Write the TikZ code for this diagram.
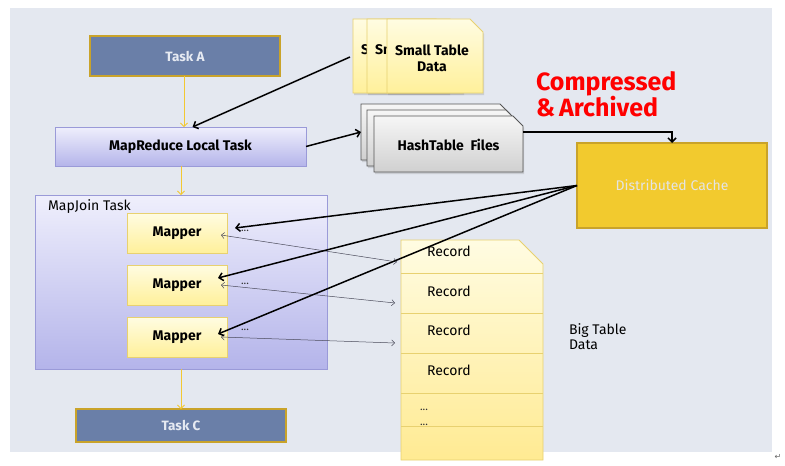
\documentclass[tikz,border=0pt]{standalone}
\usepackage{fontspec}
\setmainfont{Fira Sans}
\newfontfamily\symfont{DejaVu Sans}
\usetikzlibrary{arrows.meta,shadows}
\definecolor{bgc}{HTML}{E4E8F0}
\definecolor{taskfill}{HTML}{6A7FA8}
\definecolor{gold}{HTML}{C9A32A}
\definecolor{tasktext}{HTML}{E6EAF2}
\definecolor{lavtop}{HTML}{EFEFFC}
\definecolor{lavbot}{HTML}{B4B4EA}
\definecolor{lavline}{HTML}{9A9AD8}
\definecolor{yeltop}{HTML}{FFFCE2}
\definecolor{yelbot}{HTML}{FFF09A}
\definecolor{yelline}{HTML}{E8D170}
\definecolor{dcfill}{HTML}{F2CA2E}
\definecolor{dctext}{HTML}{E4E4E4}
\definecolor{arrowyel}{HTML}{F2C832}
\definecolor{graytop}{HTML}{F6F6F6}
\definecolor{graybot}{HTML}{D0D0D0}
\definecolor{grayline}{HTML}{555555}
\definecolor{thinline}{HTML}{4A4A5A}
\begin{document}
\begin{tikzpicture}[x=1pt,y=-1pt,
  every node/.style={inner sep=0pt, outer sep=0pt},
  task/.style={draw=gold, line width=1.2pt, fill=taskfill, text=tasktext,
    font=\fontsize{13.5pt}{15pt}\selectfont\bfseries},
  lav/.style={draw=lavline, line width=0.8pt, top color=lavtop, bottom color=lavbot},
  mapper/.style={draw=yelline, line width=0.8pt, top color=yeltop, bottom color=yelbot,
    minimum width=100pt, minimum height=40pt, font=\fontsize{14pt}{16pt}\selectfont\bfseries},
  stdoc/.style={draw=yelline, line width=0.8pt, top color=yeltop, bottom color=yelbot,
    drop shadow={opacity=0.25, shadow xshift=1pt, shadow yshift=-2pt}},
  htdoc/.style={draw=grayline, line width=0.8pt, top color=graytop, bottom color=graybot,
    drop shadow={opacity=0.25, shadow xshift=1pt, shadow yshift=-2pt}},
  boldtext/.style={font=\fontsize{14pt}{16pt}\selectfont\bfseries, align=center},
  plaintext/.style={font=\fontsize{14pt}{16pt}\selectfont},
  dots/.style={font=\fontsize{11pt}{11pt}\selectfont, text=black!80},
  yarrow/.style={draw=arrowyel, line width=0.8pt, -{Straight Barb[length=3.5pt,width=7pt]}},
  barrow/.style={draw=black, line width=1.5pt, -{Straight Barb[length=4pt,width=8pt]}},
  tarrow/.style={draw=thinline, line width=0.5pt,
    {Straight Barb[length=3pt,width=6pt]}-{Straight Barb[length=3pt,width=6pt]}}
]
\useasboundingbox (0,0) rectangle (785,466);
\fill[white] (0,0) rectangle (785,466);
\fill[bgc] (10,8) rectangle (772,452);

% left column
\node[task, minimum width=190pt, minimum height=40pt] (taskA) at (185,56) {Task A};
\node[lav, minimum width=251pt, minimum height=39pt, boldtext] (mr) at (180.5,146.5) {MapReduce Local Task};
\node[lav, minimum width=292pt, minimum height=174pt] (mj) at (181,282) {};
\node[plaintext, anchor=west] (mjlabel) at (48,207) {MapJoin Task};
\node[mapper] (m1) at (177,233) {Mapper};
\node[mapper] (m2) at (177,285) {Mapper};
\node[mapper] (m3) at (177,337) {Mapper};
\node[task, minimum width=210pt, minimum height=33pt] (taskC) at (181,425.5) {Task C};

\draw[yarrow] (taskA.south -| 184,0) -- (184,0 |- mr.north);
\draw[yarrow] (mr.south -| 181,0) -- (181,0 |- mj.north);
\draw[yarrow] (mj.south -| 181,0) -- (181,0 |- taskC.north);

\node[dots] (d1) at (245,231) {...};
\node[dots] (d2) at (245,284) {...};
\node[dots] (d3) at (245,330) {...};

% small table data stack
\path[stdoc] (353,93) -- (353,19) -- (436,19) -- (449,32) -- (449,93) -- cycle;
\node[boldtext, minimum width=96pt, minimum height=74pt] (st1) at (398,57) {Small Table\\Data};
\path[stdoc] (367,93) -- (367,19) -- (450,19) -- (463,32) -- (463,93) -- cycle;
\node[boldtext, minimum width=96pt, minimum height=74pt] (st2) at (412,57) {Small Table\\Data};
\path[stdoc] (387,93) -- (387,19) -- (470,19) -- (483,32) -- (483,93) -- cycle;
\node[boldtext, minimum width=96pt, minimum height=74pt] (st3) at (432,58) {Small Table\\Data};

% hashtable files stack
\path[htdoc] (361,160) -- (361,104) -- (500,104) -- (510,114) -- (510,160) -- cycle;
\node[minimum width=149pt, minimum height=56pt] (ht1) at (435.5,132) {};
\path[htdoc] (367,166) -- (367,110) -- (506,110) -- (516,120) -- (516,166) -- cycle;
\node[minimum width=149pt, minimum height=56pt] (ht2) at (441.5,138) {};
\path[htdoc] (374,172) -- (374,116) -- (513,116) -- (523,126) -- (523,172) -- cycle;
\node[boldtext, minimum width=149pt, minimum height=56pt] (ht3) at (448.5,145) {HashTable\ \ Files};

% compressed label
\node[anchor=north west, align=left, text=red, font=\fontsize{25pt}{26pt}\selectfont\bfseries] (comp) at (536,72) {Compressed\\\&\,Archived};

% distributed cache
\node[draw=gold, line width=1.2pt, fill=dcfill, text=dctext, minimum width=190pt, minimum height=85pt,
  font=\fontsize{14pt}{16pt}\selectfont] (dc) at (672,185.5) {Distributed Cache};

% big table
\path[draw=yelline, line width=0.8pt, top color=yeltop, bottom color=yelbot!95!orange]
  (401,460) -- (401,240) -- (519,240) -- (543,264) -- (543,460) -- cycle;
\foreach \yy in {273,313,353,393,426} \draw[yelline, line width=0.8pt] (401,\yy) -- (543,\yy);
\node[plaintext, anchor=west] (rec1) at (427,251) {Record};
\node[plaintext, anchor=west] (rec2) at (427,291) {Record};
\node[plaintext, anchor=west] (rec3) at (427,330) {Record};
\node[plaintext, anchor=west] (rec4) at (427,370) {Record};
\node[dots, anchor=west] (rd1) at (420,410) {...};
\node[dots, anchor=west] (rd2) at (420,425) {...};
\node[plaintext, anchor=west, align=left, font=\fontsize{14pt}{15pt}\selectfont] (bt) at (569,337) {Big Table\\Data};

\coordinate (in1) at (397,262);
\coordinate (in2) at (395,303);
\coordinate (in3) at (395,343);

% connectors
\draw[barrow] (st1.west) -- ([xshift=12pt]mr.north);
\draw[barrow] (mr.east) -- (ht1.west);
\draw[barrow] (ht3.east |- ht1.west) -| (dc.north);
\draw[tarrow] ([xshift=-6pt,yshift=-2pt]m1.east) -- (in1);
\draw[tarrow] ([xshift=-6pt]m2.east) -- (in2);
\draw[tarrow] ([xshift=-6pt]m3.east) -- (in3);
\draw[barrow] (dc.west) -- ([xshift=8pt,yshift=5pt]m1.east);
\draw[barrow] (dc.west) -- ([xshift=-9pt,yshift=7pt]m2.east);
\draw[barrow] (dc.west) -- ([xshift=-9pt,yshift=3pt]m3.east);

\node[font=\symfont\fontsize{8pt}{8pt}\selectfont, text=black!60] (pm) at (778,457) {↵};
\end{tikzpicture}
\end{document}
